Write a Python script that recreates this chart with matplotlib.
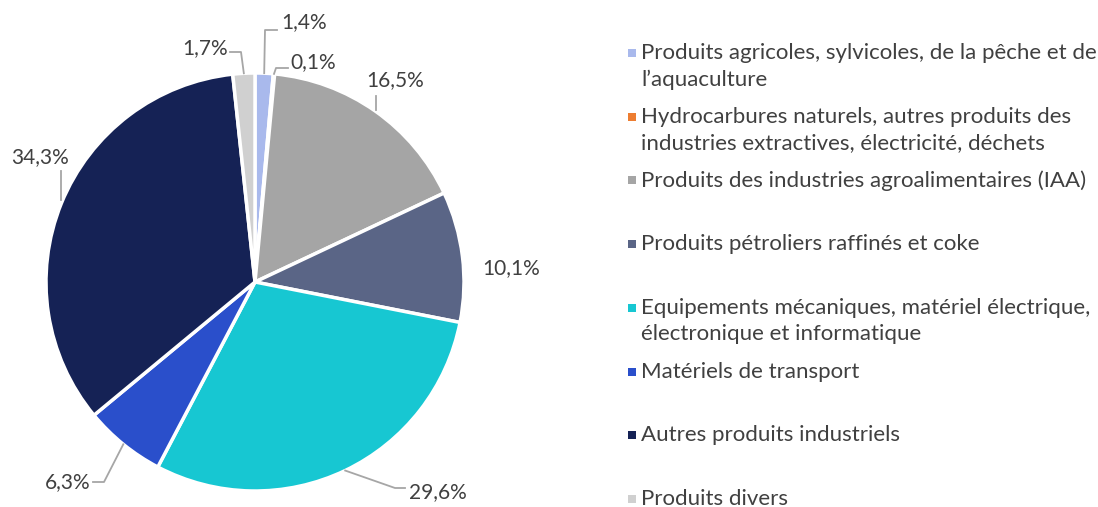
import numpy as np
import matplotlib.pyplot as plt
from matplotlib.patches import Rectangle

categories = [
    "Produits agricoles, sylvicoles, de la pêche et de\nl\u2019aquaculture",
    "Hydrocarbures naturels, autres produits des\nindustries extractives, électricité, déchets",
    "Produits des industries agroalimentaires (IAA)",
    "Produits pétroliers raffinés et coke",
    "Equipements mécaniques, matériel électrique,\nélectronique et informatique",
    "Matériels de transport",
    "Autres produits industriels",
    "Produits divers",
]
shares = [1.4, 0.1, 16.5, 10.1, 29.6, 6.3, 34.3, 1.7]
labels = ["1,4%", "0,1%", "16,5%", "10,1%", "29,6%", "6,3%", "34,3%", "1,7%"]
colors = ["#a9b9ec", "#ed7d31", "#a5a5a5", "#5a6586",
          "#17c7d2", "#2a4fcb", "#152255", "#d0d0d0"]

W, H = 1098, 507
cx, cy, R = 255, 282, 209
txt_color = "#404040"
font = "Lato"

fig = plt.figure(figsize=(W / 100, H / 100), dpi=100)
ax = fig.add_axes([(cx - R) / W, (H - cy - R) / H, 2 * R / W, 2 * R / H])
ax.pie(shares, colors=colors, startangle=90, counterclock=False,
       wedgeprops=dict(edgecolor="white", linewidth=2.5))
ax.set_xlim(-1, 1)
ax.set_ylim(-1, 1)
ax.set_aspect("equal")
ax.axis("off")

def to_data(px, py):
    return (px - cx) / R, (cy - py) / R

# label text positions (pixels) and leader elbow points, Excel style
label_pos = [(281, 22, "left"), (290, 62, "left"), (395, 80, "center"),
             (482, 268, "left"), (409, 492, "left"), (91, 482, "right"),
             (40, 157, "center"), (228, 48, "right")]
elbow = [(265, 30), (276, 68), None, None, (395, 488), (104, 482),
         None, (241, 52)]
leader_end = [(277, 30), (288, 68), (376, 96), None, (405, 488), (93, 482),
              (61, 171), (230, 52)]

angles = 90 - 3.6 * (np.cumsum(shares) - np.array(shares) / 2)
for i, lab in enumerate(labels):
    a = np.deg2rad(angles[i])
    ex, ey = np.cos(a) * 1.0, np.sin(a) * 1.0
    tx, ty = to_data(label_pos[i][0], label_pos[i][1])
    ax.text(tx, ty, lab, ha=label_pos[i][2], va="center", fontsize=15,
            color=txt_color, family=font, clip_on=False)
    if leader_end[i] is None:
        continue
    pts = [(ex, ey)]
    if elbow[i] is not None:
        pts.append(to_data(*elbow[i]))
    pts.append(to_data(*leader_end[i]))
    if i == 2:
        pts = [to_data(376, 110), to_data(376, 96)]
    if i == 6:
        pts = [to_data(61, 200), to_data(61, 171)]
    xs, ys = zip(*pts)
    ax.plot(xs, ys, color="#a6a6a6", lw=1.3, clip_on=False)

# legend
lx, ly0, step = 628, 53, 63.7
for i, cat in enumerate(categories):
    y = ly0 + i * step
    fig.patches.append(Rectangle((lx / W, 1 - (y + 4) / H), 8 / W, 8 / H,
                                 transform=fig.transFigure,
                                 facecolor=colors[i], edgecolor="none"))
    fig.text(641 / W, 1 - (y - 10) / H, cat, ha="left", va="top",
             fontsize=16, color=txt_color, family=font, linespacing=1.38)

fig.savefig("out.png", dpi=100)
